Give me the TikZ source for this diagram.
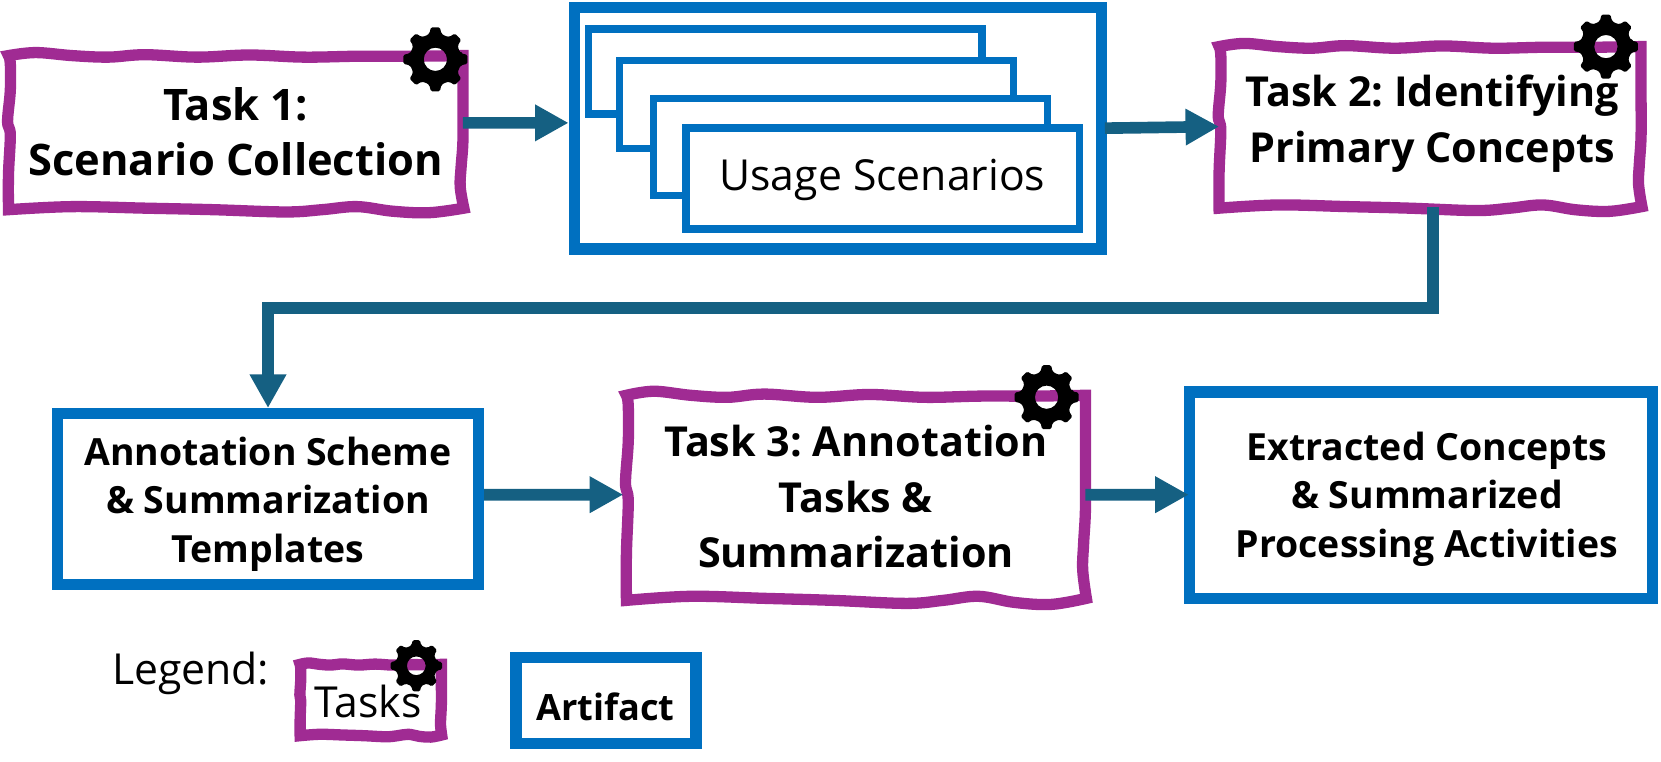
\documentclass[tikz,border=0pt]{standalone}
\usepackage{fontspec}
\setmainfont{Open Sans}
\usetikzlibrary{arrows.meta, calc}

\definecolor{taskpurple}{HTML}{A02B93}
\definecolor{artifactblue}{HTML}{0070C0}
\definecolor{arrowteal}{HTML}{156082}

% wobbly hand-drawn outline round a named node
\newcommand{\sketchbox}[1]{
    \begin{scope}[shift={(#1.north west)}, x={($(#1.north east)-(#1.north west)$)}, y={($(#1.south west)-(#1.north west)$)}]
        \draw[draw=taskpurple, line width=6.4pt, miter limit=4]
            plot[smooth, tension=0.6] coordinates {(0,0) (.06,-.02) (.14,0) (.22,.01) (.30,-.006) (.415,.01) (.53,-.004) (.65,.01) (.77,.004) (.885,.004) (1,0)}
            -- plot[smooth, tension=0.6] coordinates {(1,0) (1,.3) (1,.56) (.996,.73) (.994,.86) (1.002,1)}
            -- plot[smooth, tension=0.6] coordinates {(1.002,1) (.925,1.03) (.845,1.02) (.767,.99) (.69,1.01) (.61,1.025) (.45,1.01) (.3,1) (.14,.99) (0,1.01)}
            -- plot[smooth, tension=0.6] coordinates {(0,1.01) (0,.78) (.004,.52) (-.002,.43) (.004,.23) (.004,.05) (0,0)}
            -- cycle;
    \end{scope}
}

\begin{document}
\frenchspacing
\begin{tikzpicture}[
    x=0.6pt, y=-0.6pt,
    task/.style={rectangle, inner sep=0pt, outer sep=0pt, align=center, font=\bfseries\fontsize{23.4}{31.5}\selectfont},
    artifact/.style={rectangle, draw=artifactblue, fill=white, line width=6.4pt, inner sep=0pt, outer sep=0pt},
    sheet/.style={rectangle, draw=artifactblue, fill=white, line width=4.2pt, inner sep=0pt, outer sep=0pt, anchor=north west, minimum width=223pt},
    boldtext/.style={align=center, inner sep=0pt, font=\bfseries\fontsize{21.2}{27.5}\selectfont},
    plaintext/.style={inner sep=0pt, font=\fontsize{24.2}{28}\selectfont},
    arrow/.style={-{Triangle[length=19pt, width=19.5pt]}, draw=arrowteal, line width=6.6pt},
    gearicon/.pic={
        \fill[black, even odd rule, rounded corners=0.8pt]
            (-13:0.82) \foreach \a in {0,45,...,315} {
                -- (\a-13:0.82) -- (\a-8:1) -- (\a+8:1) -- (\a+13:0.82) -- (\a+22.5:0.78)
            } -- cycle
            (0,0) circle (0.36);
    }
]
    \useasboundingbox (0,0) rectangle (1568,718.4);

    \node[task, font=\bfseries\fontsize{24.6}{31.5}\selectfont, minimum width=257.4pt, minimum height=86.4pt] (task1) at (222.5,124.5) {Task 1:\\Scenario Collection};
    \node[artifact, minimum width=298.5pt, minimum height=137pt] (usage) at (791,121) {};
    \node[sheet, minimum height=48pt] (sheet1) at (555.5,27.5) {};
    \node[sheet, minimum height=50pt] (sheet2) at (585,57) {};
    \node[sheet, minimum height=55pt] (sheet3) at (617,93) {};
    \node[sheet, minimum height=57pt] (sheet4) at (647.5,121) {};
    \node[plaintext] (usagetext) at (833,170) {Usage Scenarios};
    \node[task, minimum width=239pt, minimum height=90.6pt] (task2) at (1350,119.5) {};
    \node[task] (task2text) at (1352,116.5) {Task 2: Identifying\\Primary Concepts};
    \node[artifact, minimum width=238.8pt, minimum height=97pt] (annot) at (253,471) {};
    \node[boldtext] (annottext) at (253,476) {Annotation Scheme\\\& Summarization\\Templates};
    \node[task, minimum width=260pt, minimum height=115pt] (task3) at (808,469) {Task 3: Annotation\\Tasks \&\\Summarization};
    \node[artifact, minimum width=262pt, minimum height=117pt] (extracted) at (1341.5,467.5) {};
    \node[boldtext] (extractedtext) at (1347,471) {Extracted Concepts\\\& Summarized\\Processing Activities};

    % legend
    \node[plaintext] (legend) at (180,636) {Legend:};
    \node[task, minimum width=80pt, minimum height=40pt] (tasklegend) at (350,660.5) {};
    \node[plaintext] (tasklegendtext) at (347.5,662) {Tasks};
    \node[artifact, minimum width=102pt, minimum height=48.6pt] (artifactlegend) at (572,661.5) {};
    \node[boldtext, font=\bfseries\fontsize{20.5}{27.5}\selectfont] (artifacttext) at (571.5,667) {Artifact};

    \foreach \t in {task1, task2, task3, tasklegend} {
        \sketchbox{\t}
    }

    \pic[scale=30.5] (gear1) at (411,56) {gearicon};
    \pic[scale=30.5] (gear2) at (1516,44) {gearicon};
    \pic[scale=30.5] (gear3) at (988,375) {gearicon};
    \pic[scale=24.5] (gearlegend) at (393,628.5) {gearicon};

    \draw[arrow] ([yshift=5.1pt]task1.east) -- ([xshift=-3.3pt, yshift=3pt]usage.west);
    \draw[arrow] ([xshift=2pt]usage.east) -- (task2.west);
    \draw[arrow] ([xshift=1.8pt]task2.south) -- ++(0,96) -| ([yshift=3pt]annot.north);
    \draw[arrow] ([xshift=3pt, yshift=2.4pt]annot.east) -- ([xshift=-1.8pt, yshift=1.2pt]task3.west);
    \draw[arrow] ([yshift=1.2pt]task3.east) -- ([yshift=0.3pt, xshift=-0.6pt]extracted.west);
\end{tikzpicture}
\end{document}
